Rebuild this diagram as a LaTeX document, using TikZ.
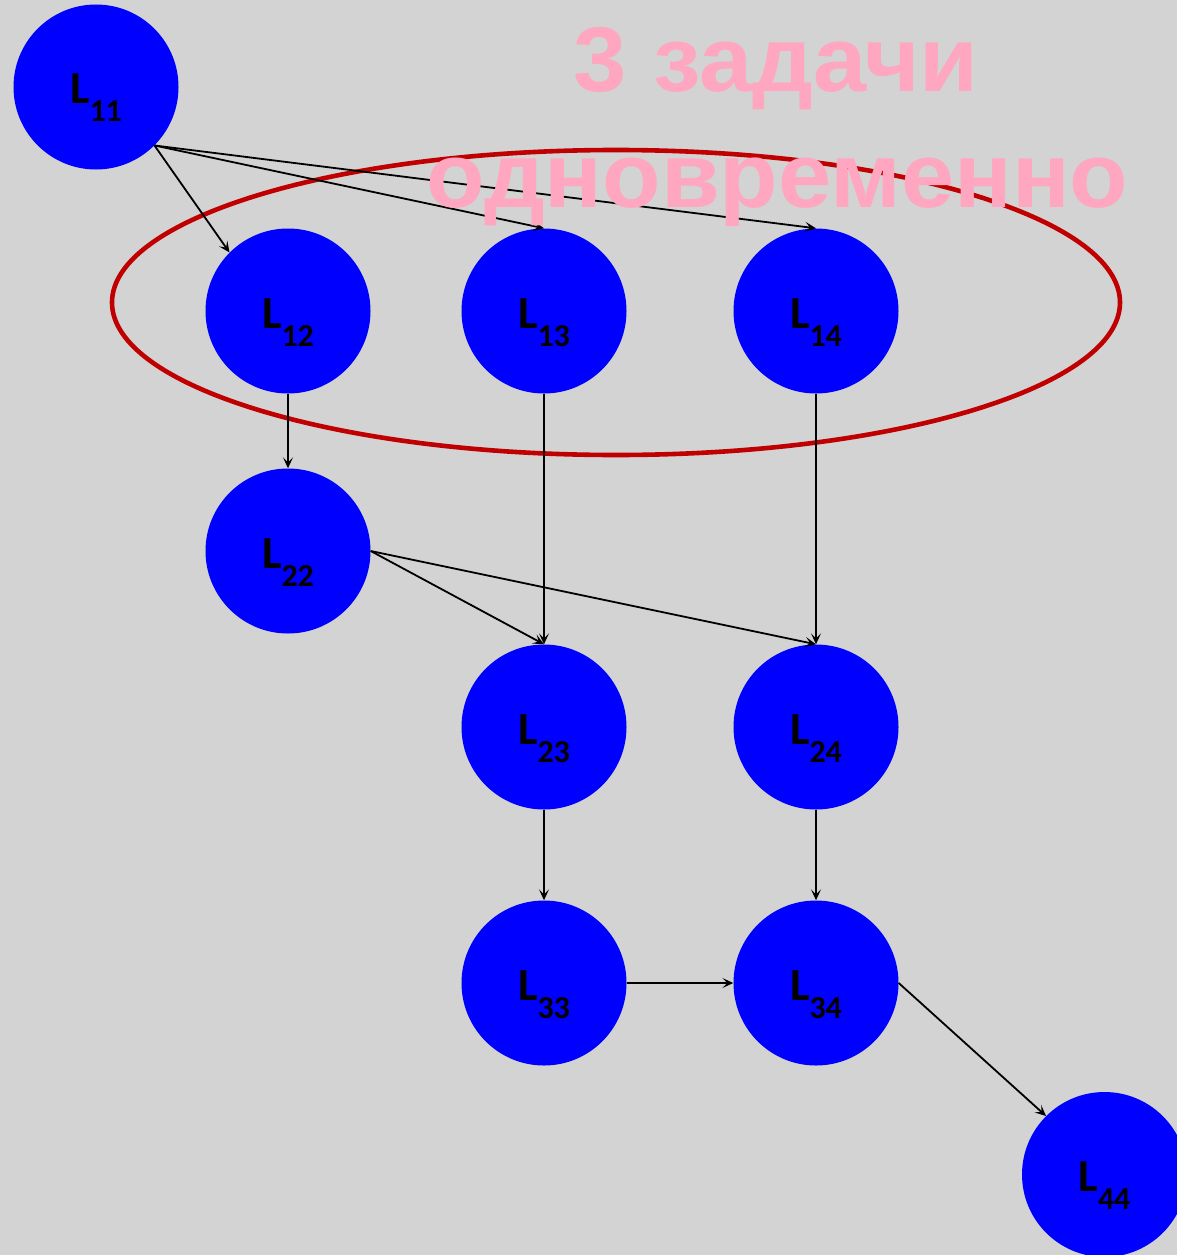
\documentclass[tikz,border=0pt]{standalone}
\usepackage{fontspec}
\setmainfont{Carlito}
\newfontfamily\titlefont{Liberation Sans}
\usetikzlibrary{arrows.meta}
\definecolor{bggray}{RGB}{211,211,211}
\definecolor{nodeblue}{RGB}{0,0,255}
\definecolor{ovalred}{RGB}{192,0,0}
\definecolor{titlepink}{RGB}{255,166,192}
\newcommand{\Lab}[1]{\raisebox{-17pt}[0pt][0pt]{L\raisebox{-18pt}{\fontsize{32}{32}\selectfont #1}}}
\tikzset{
  blob/.style={circle, fill=nodeblue, minimum size=165pt, inner sep=0pt,
    font=\fontsize{46}{50}\selectfont\bfseries, text=black},
  conn/.style={draw=black, line width=1.8pt, -{Stealth[length=11pt,width=10pt,inset=5pt]}},
  oval/.style={draw=ovalred, line width=4.6pt},
  ttl/.style={anchor=base, text=titlepink, inner sep=0pt,
    font=\titlefont\fontsize{92}{100}\selectfont\bfseries}
}
\begin{document}
\begin{tikzpicture}[x=1pt,y=-1pt]
\useasboundingbox (0,0) rectangle (1177,1255);
\fill[bggray] (0,0) rectangle (1177,1255);
\clip (0,0) rectangle (1177,1255);

\draw[oval] (616,302.5) ellipse [x radius=504, y radius=152.5];

\node[blob] (L11) at (96,87) {\Lab{11}};
\node[blob] (L12) at (288,311) {\Lab{12}};
\node[blob] (L13) at (544,311) {\Lab{13}};
\node[blob] (L14) at (816,311) {\Lab{14}};
\node[blob] (L22) at (288,551) {\Lab{22}};
\node[blob] (L23) at (544,727) {\Lab{23}};
\node[blob] (L24) at (816,727) {\Lab{24}};
\node[blob] (L33) at (544,983) {\Lab{33}};
\node[blob] (L34) at (816,983) {\Lab{34}};
\node[blob] (L44) at (1104.5,1174.5) {\Lab{44}};

\draw[conn] (L11.-45) -- (L12.135);
\draw[conn] (L11.-45) -- (L13.north);
\draw[conn] (L11.-45) -- (L14.north);
\draw[conn] (L12.south) -- (L22.north);
\draw[conn] (L13.south) -- (L23.north);
\draw[conn] (L14.south) -- (L24.north);
\draw[conn] (L22.east) -- (L23.north);
\draw[conn] (L22.east) -- (L24.north);
\draw[conn] (L23.south) -- (L33.north);
\draw[conn] (L24.south) -- (L34.north);
\draw[conn] (L33.east) -- (L34.west);
\draw[conn] (L34.east) -- (L44.135);

\node[ttl, xscale=1.04] (t1) at (776,92) {3 задачи};
\node[ttl, xscale=1.04] (t2) at (777.5,207) {одновременно};
\end{tikzpicture}
\end{document}
